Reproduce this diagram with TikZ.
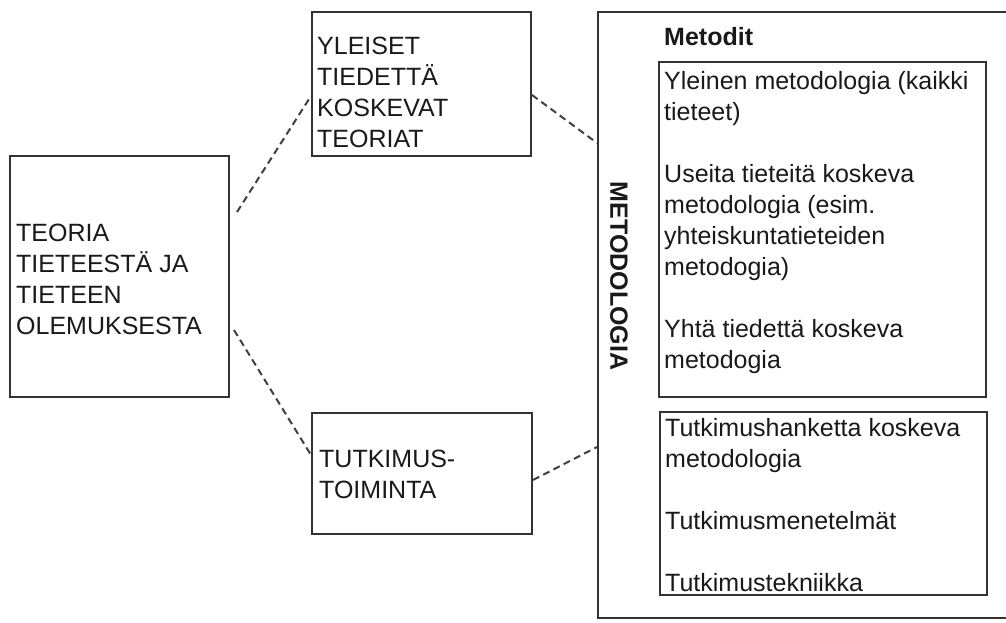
\documentclass[tikz,border=0pt]{standalone}
\usepackage{fontspec}
\setmainfont{Liberation Sans}
\newcommand\bodyfont{\fontsize{25}{31}\selectfont}
\tikzset{
  frame/.style={draw=black!80, line width=2pt, inner sep=0pt},
  boxtext/.style={anchor=north west, inner sep=0pt, align=left, font=\bodyfont, text=black!90},
  link/.style={draw=black!75, line width=2pt, dash pattern=on 7pt off 4.5pt},
}
\begin{document}
\begin{tikzpicture}[x=1pt,y=-1pt]
\useasboundingbox (0,0) rectangle (1006,623);
\clip (0,0) rectangle (1006,623);

% frames
\node[frame, minimum width=219pt, minimum height=241pt] (teoria)  at (119.5,276.5) {};
\node[frame, minimum width=219pt, minimum height=144pt] (yleiset) at (421.5,84) {};
\node[frame, minimum width=220pt, minimum height=121pt] (tutk)    at (422,473.5) {};
\node[frame, minimum width=418pt, minimum height=606pt] (metod)   at (807,315) {};
\node[frame, minimum width=327pt, minimum height=335pt] (yleinen) at (822.5,229.5) {};
\node[frame, minimum width=327pt, minimum height=183pt] (hanke)   at (823.5,503.5) {};

% texts
\node[boxtext] (teoriaT) at (16,219.3)
  {\strut TEORIA\\TIETEESTÄ JA\\TIETEEN\\OLEMUKSESTA};
\node[boxtext] (yleisetT) at (317,32.3)
  {\strut YLEISET\\TIEDETTÄ\\KOSKEVAT\\TEORIAT};
\node[boxtext] (tutkT) at (319,445.3)
  {\strut TUTKIMUS-\\TOIMINTA};
\node[boxtext, font=\bodyfont\bfseries] (metodit) at (664,23.3) {\strut Metodit};
\node[boxtext] (yleinenT) at (664,67.3)
  {\strut Yleinen metodologia (kaikki\\tieteet)\\[31pt]
   Useita tieteitä koskeva\\metodologia (esim.\\yhteiskuntatieteiden\\metodogia)\\[31pt]
   Yhtä tiedettä koskeva\\metodogia};
\node[boxtext] (hankeT) at (665,414.3)
  {\strut Tutkimushanketta koskeva\\metodologia\\[31pt]
   Tutkimusmenetelmät\\[31pt]
   Tutkimustekniikka};
\node[rotate=-90, inner sep=0pt, font=\bodyfont\bfseries, text=black!90] (metodT) at (619,276) {METODOLOGIA};

% dashed connectors
\draw[link] ([shift={(7,-64.5)}]teoria.east) -- ([shift={(0,12)}]yleiset.west);
\draw[link] ([shift={(4,53.5)}]teoria.east) -- ([shift={(0,-18.5)}]tutk.west);
\draw[link] ([shift={(0,11)}]yleiset.east) -- ([shift={(0,-172)}]metod.west);
\draw[link] ([shift={(0,6.5)}]tutk.east) -- ([shift={(0,132)}]metod.west);
\end{tikzpicture}
\end{document}
